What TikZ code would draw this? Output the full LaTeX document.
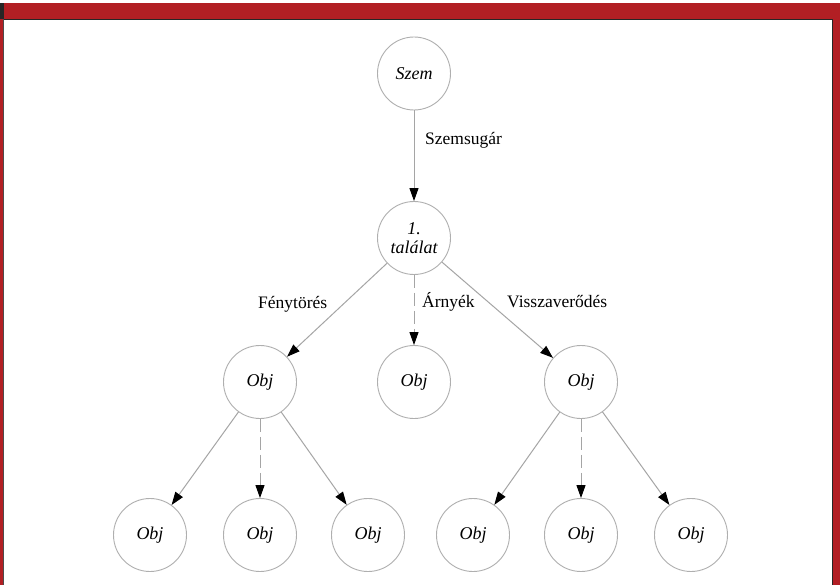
\documentclass[tikz,border=0pt]{standalone}
\usepackage{fontspec}
\setmainfont{Liberation Serif}
\usetikzlibrary{arrows.meta}
\definecolor{frame}{RGB}{178,31,36}
\definecolor{edgegray}{RGB}{165,165,165}
\definecolor{circgray}{RGB}{175,175,175}
\tikzset{
  obj/.style={circle, draw=circgray, line width=0.9pt, minimum size=73pt, inner sep=0pt,
    align=center, font=\fontsize{18}{19}\selectfont\itshape},
  link/.style={draw=edgegray, line width=1pt, -{Triangle[length=13pt,width=9pt,color=black]}},
  dashlink/.style={link, dash pattern=on 13pt off 5pt},
  elabel/.style={font=\fontsize{17.5}{20}\selectfont, inner sep=0pt, anchor=base west}
}
\begin{document}
\begin{tikzpicture}[x=1pt,y=-1pt]
\useasboundingbox (0,0) rectangle (840,585);
% frame
\fill[white] (0,0) rectangle (840,585);
\fill[frame] (0,3) rectangle (840,19);
\fill[frame] (0,3) rectangle (4,585);
\fill[frame] (832,3) rectangle (840,585);
\fill[black!85] (0,3) rectangle (4,19);
\draw[black!85, line width=1.5pt] (4,19.5) -- (832.5,19.5) -- (832.5,585);
\draw[black!70, line width=0.8pt] (3.6,19) -- (3.6,585);
% nodes
\node[obj] (szem) at (414,73.5) {Szem};
\node[obj] (hit) at (414,238) {1.\\találat};
\node[obj] (ml) at (260,382) {Obj};
\node[obj] (mc) at (414,382) {Obj};
\node[obj] (mr) at (581,382) {Obj};
\node[obj] (b1) at (150,535) {Obj};
\node[obj] (b2) at (260,535) {Obj};
\node[obj] (b3) at (368,535) {Obj};
\node[obj] (b4) at (473,535) {Obj};
\node[obj] (b5) at (581,535) {Obj};
\node[obj] (b6) at (691,535) {Obj};
% edges
\draw[link] (szem) -- (hit);
\draw[link] (hit) -- (ml);
\draw[dashlink] (hit) -- (mc);
\draw[link] (hit) -- (mr);
\draw[link] (ml) -- (b1);
\draw[dashlink] (ml) -- (b2);
\draw[link] (ml) -- (b3);
\draw[link] (mr) -- (b4);
\draw[dashlink] (mr) -- (b5);
\draw[link] (mr) -- (b6);
% labels
\node[elabel] (l1) at (425,145) {Szemsugár};
\node[elabel] (l2) at (258,308) {Fénytörés};
\node[elabel] (l3) at (422,307) {Árnyék};
\node[elabel] (l4) at (507,307) {Visszaverődés};
\end{tikzpicture}
\end{document}
